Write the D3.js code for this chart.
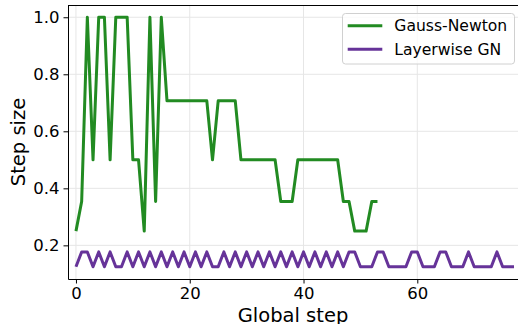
<!DOCTYPE html>
<meta charset="utf-8">
<title>Step size</title>
<style>
body {
  margin: 0;
  font-family: "DejaVu Sans", sans-serif;
  background: #fff;
}
.grid line { stroke: #e6e6e6; stroke-width: 1; }
.axis path, .axis line { stroke: #000; }
.axis text { font-size: 16.5px; fill: #000; font-family: "DejaVu Sans", sans-serif; }
</style>
<body></body>
<script src="https://cdn.jsdelivr.net/npm/d3@7"></script>
<script>

// step sizes
var gaussNewton = [0.25, 0.354, 1, 0.5, 1, 1, 0.5, 1, 1, 1, 0.5, 0.5, 0.25, 1, 0.354, 1,
  0.707, 0.707, 0.707, 0.707, 0.707, 0.707, 0.707, 0.707, 0.5,
  0.707, 0.707, 0.707, 0.707,
  0.5, 0.5, 0.5, 0.5, 0.5, 0.5, 0.5,
  0.354, 0.354, 0.354,
  0.5, 0.5, 0.5, 0.5, 0.5, 0.5, 0.5, 0.5,
  0.354, 0.354, 0.25, 0.25, 0.25, 0.354, 0.354];

var layerwise = [0.125, 0.177, 0.177, 0.125, 0.177, 0.125, 0.177, 0.125, 0.125,
  0.177, 0.125, 0.177, 0.125, 0.177, 0.125, 0.177, 0.125, 0.177, 0.125, 0.177, 0.125,
  0.177, 0.125, 0.177, 0.125, 0.125,
  0.177, 0.125, 0.177, 0.125, 0.177, 0.125, 0.177, 0.125, 0.177, 0.125,
  0.177, 0.125, 0.177, 0.125, 0.177, 0.125, 0.177, 0.125, 0.177, 0.125, 0.177, 0.125,
  0.177, 0.177, 0.125, 0.125, 0.125, 0.177, 0.177,
  0.125, 0.125, 0.125, 0.125, 0.177, 0.177,
  0.125, 0.125, 0.125, 0.177, 0.177,
  0.125, 0.125, 0.125, 0.177,
  0.125, 0.125, 0.125, 0.125, 0.177,
  0.125, 0.125, 0.125];

var seriesNames = ["Gauss-Newton", "Layerwise GN"];
var seriesColors = ["#228b22", "#663399"];
var xTicks = [0, 20, 40, 60];
var yTicks = [0.2, 0.4, 0.6, 0.8, 1.0];

var width = 518,
    height = 324,
    mLeft = 68, mRight = 518, mTop = 5, mBottom = 279;

var svg = d3.select("body").append("svg")
    .attr("width", width)
    .attr("height", height);

var x = d3.scaleLinear().domain([-1.4, 77.7]).range([mLeft, mRight]);
var y = d3.scaleLinear().domain([0.082, 1.043]).range([mBottom, mTop]);

// grid
var grid = svg.append("g").attr("class", "grid");
grid.selectAll(".gx").data(xTicks).enter().append("line")
    .attr("x1", d => x(d)).attr("x2", d => x(d))
    .attr("y1", mTop).attr("y2", mBottom);
grid.selectAll(".gy").data(yTicks).enter().append("line")
    .attr("x1", mLeft).attr("x2", mRight)
    .attr("y1", d => y(d)).attr("y2", d => y(d));

var line = d3.line()
    .x((d, i) => x(i))
    .y(d => y(d));

var plot = svg.append("g");
[gaussNewton, layerwise].forEach(function(s, k) {
  plot.append("path")
      .attr("d", line(s))
      .attr("fill", "none")
      .attr("stroke", seriesColors[k])
      .attr("stroke-width", 3)
      .attr("stroke-linejoin", "round");
});

// axes
svg.append("g")
    .attr("class", "axis")
    .attr("transform", "translate(0," + mBottom + ")")
    .call(d3.axisBottom(x).tickValues(xTicks).tickFormat(d3.format("d"))
      .tickSizeInner(4.5).tickSizeOuter(0).tickPadding(4));

svg.append("g")
    .attr("class", "axis")
    .attr("transform", "translate(" + mLeft + ",0)")
    .call(d3.axisLeft(y).tickValues(yTicks).tickFormat(d3.format(".1f"))
      .tickSizeInner(4.5).tickSizeOuter(0).tickPadding(4));

// top spine
svg.append("line")
    .attr("x1", mLeft).attr("x2", mRight)
    .attr("y1", mTop + 0.5).attr("y2", mTop + 0.5)
    .attr("stroke", "#000");

// axis labels
svg.append("text")
    .attr("x", (mLeft + mRight) / 2)
    .attr("y", 322)
    .attr("text-anchor", "middle")
    .style("font-size", "19.5px")
    .text("Global step");

svg.append("text")
    .attr("transform", "translate(25," + ((mTop + mBottom) / 2) + ") rotate(-90)")
    .attr("text-anchor", "middle")
    .style("font-size", "19.5px")
    .text("Step size");

// legend
var lg = svg.append("g");
lg.append("rect")
    .attr("x", 342.5).attr("y", 13.5)
    .attr("width", 172).attr("height", 50.5)
    .attr("rx", 3)
    .attr("fill", "#fff").attr("fill-opacity", 0.8)
    .attr("stroke", "#d0d0d0");

seriesNames.forEach(function(n, i) {
  var yy = 25.7 + i * 23.6;
  lg.append("line")
      .attr("x1", 347.7).attr("x2", 382.3)
      .attr("y1", yy).attr("y2", yy)
      .attr("stroke", seriesColors[i])
      .attr("stroke-width", 3);
  lg.append("text")
      .attr("x", 394.3).attr("y", yy)
      .attr("dy", "0.36em")
      .style("font-size", "15.6px")
      .text(n);
});

</script>
